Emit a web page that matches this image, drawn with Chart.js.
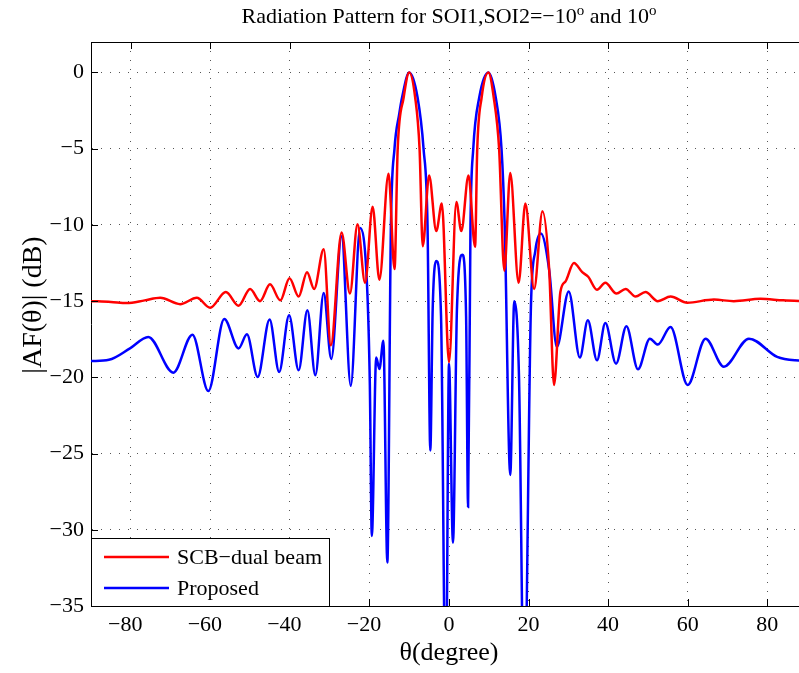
<!DOCTYPE html>
<html>
<head>
<meta charset="utf-8">
<script src="https://cdn.jsdelivr.net/npm/chart.js@4.4.1/dist/chart.umd.min.js"></script>
<style>
  html, body { margin: 0; padding: 0; background: #fff; overflow: hidden; }
  #wrap { width: 820px; height: 673px; }
</style>
</head>
<body>
<div id="wrap"><canvas id="patternChart" width="820" height="673"></canvas></div>
<script>
// angles in degrees, levels in dB
const redTheta = [-90, -85, -81, -76.5, -72.6, -67.6, -63.4, -60.05, -56.1, -52.9, -50, -47.5, -45, -42.4, -40.1,
  -37.8, -35.7, -33.9, -31.5, -29.7, -27, -24.9, -23, -21.1, -19.2, -17.5, -15.2, -13.7, -12.9, -11.4,
  -10, -8.5, -7.4, -6.6, -5, -3.2, -1.8, 0, 1.85, 3.1, 4.9, 6.55, 7.1, 8.2, 9.9,
  11.25, 12.6, 13.9, 15.4, 17.5, 19.2, 21.4, 23.5, 25.2, 26.4, 28, 29.3, 31.4, 33.5, 35,
  37.2, 39.3, 42.1, 44.4, 46.9, 49.4, 52.5, 55.7, 59.9, 66.6, 71.6, 78.3, 84, 90];
const redDb = [-15, -15.05, -15.13, -14.95, -14.78, -15.2, -14.78, -15.43, -14.4, -15.3, -14.2, -15, -13.9, -14.95, -13.5,
  -14.7, -13.1, -14.2, -11.6, -17.9, -10.5, -14.5, -9.95, -13.8, -8.8, -13.6, -6.65, -12.9, -5, -1.64,
  0, -1.64, -5, -11.4, -6.75, -10.4, -8.6, -19, -8.5, -10.4, -6.75, -11.44, -5, -1.64, 0,
  -1.64, -5, -13, -6.6, -13.8, -8.6, -14.2, -9.1, -13, -20.5, -14.4, -13.7, -12.5, -13.1, -13.4,
  -14.25, -13.8, -14.5, -14.2, -14.7, -14.4, -15, -14.7, -15.1, -14.9, -15, -14.85, -14.95, -15];

const blueTheta = [-90, -85.5, -80.2, -75.6, -69.3, -64.5, -60.5, -56.5, -52.9, -50.8, -48.1, -45.1, -42.7, -40.2, -37.8,
  -35.6, -33.6, -31.5, -29.6, -27, -24.7, -22.35, -20.6, -19.9, -19.4, -18.3, -17.5, -16.5, -15.5, -14.6,
  -13.7, -12.5, -11.8, -10, -7.9, -6.4, -5.4, -4.7, -4.1, -3.2, -2, -0.8, 0, 1, 2,
  3.36, 4.3, 4.8, 5.4, 6.1, 7.6, 9.9, 11.75, 13.2, 14, 15.4, 16.4, 17.6, 18.9, 20.6,
  21.7, 23.1, 25.2, 27.1, 30.1, 32.9, 34.9, 37.2, 39.3, 42, 44.6, 47.5, 50.5, 52.5, 55.7,
  60, 64.5, 69.1, 75.4, 82.5, 87, 90];
const blueDb = [-18.93, -18.85, -18.1, -17.35, -19.69, -17.2, -20.9, -16.17, -18.1, -17.18, -19.97, -16.2, -19.65, -15.93, -19.54,
  -15.6, -19.86, -14.47, -18.8, -10.75, -20.55, -10.2, -14, -20.5, -30.4, -18.7, -19.45, -17.6, -32.15, -10,
  -5, -2.7, -1.64, 0, -1.64, -5, -10, -24.8, -15.5, -12.36, -16, -42, -19.1, -30.85, -15.5,
  -11.95, -16, -28.5, -10, -5, -1.64, 0, -1.64, -5, -10, -26.4, -15, -20, -42, -15.3,
  -11.7, -10.57, -13, -18, -14.36, -18.7, -16.26, -18.88, -16.44, -19.1, -16.65, -19.47, -17.46, -17.85, -16.7,
  -20.5, -17.46, -19.3, -17.46, -18.66, -18.88, -18.9];

const xTicks = [-80, -60, -40, -20, 0, 20, 40, 60, 80];
const yTicks = [-35, -30, -25, -20, -15, -10, -5, 0];
const seriesNames = ["SCB\u2212dual beam", "Proposed"];

const serif = "'Liberation Serif', 'Times New Roman', serif";
const minus = (v) => (v < 0 ? "\u2212" + Math.abs(v) : String(v));

function toPoints(xs, ys) {
  return xs.map((x, i) => ({ x: x, y: ys[i] }));
}

const decor = {
  id: "decor",
  afterDatasetsDraw(chart) {
    const { ctx, chartArea: a, scales } = chart;
    const xs = scales.x, ys = scales.y;
    ctx.save();
    ctx.strokeStyle = "#000";
    ctx.lineWidth = 1;

    // top border and inward ticks
    ctx.beginPath();
    ctx.moveTo(a.left, a.top + 0.5);
    ctx.lineTo(a.right, a.top + 0.5);
    xTicks.forEach((v) => {
      const px = Math.round(xs.getPixelForValue(v)) + 0.5;
      ctx.moveTo(px, a.top);
      ctx.lineTo(px, a.top + 7);
      ctx.moveTo(px, a.bottom);
      ctx.lineTo(px, a.bottom - 7);
    });
    yTicks.forEach((v) => {
      const py = Math.round(ys.getPixelForValue(v)) + 0.5;
      ctx.moveTo(a.left, py);
      ctx.lineTo(a.left + 7, py);
    });
    ctx.stroke();

    // legend
    const lx = a.left, ly = 538, lw = 238, lh = a.bottom - 538;
    ctx.fillStyle = "#fff";
    ctx.fillRect(lx, ly, lw, lh);
    ctx.strokeRect(lx + 0.5, ly + 0.5, lw, lh);
    ctx.font = "22px " + serif;
    ctx.textBaseline = "middle";
    ctx.textAlign = "left";
    chart.data.datasets.forEach((ds, i) => {
      const y = 557 + i * 31;
      ctx.strokeStyle = ds.borderColor;
      ctx.lineWidth = 2.5;
      ctx.beginPath();
      ctx.moveTo(lx + 13, y);
      ctx.lineTo(lx + 78, y);
      ctx.stroke();
      ctx.fillStyle = "#000";
      ctx.fillText(ds.label, lx + 86, y + 1);
    });

    // title with superscript degree marks
    const parts = [
      ["Radiation Pattern for SOI1,SOI2=\u221210", false],
      ["o", true],
      [" and 10", false],
      ["o", true],
    ];
    const big = "22px " + serif, small = "15px " + serif;
    let total = 0;
    parts.forEach(([t, sup]) => {
      ctx.font = sup ? small : big;
      total += ctx.measureText(t).width;
    });
    let tx = xs.getPixelForValue(0) - total / 2;
    ctx.fillStyle = "#000";
    ctx.textBaseline = "alphabetic";
    parts.forEach(([t, sup]) => {
      ctx.font = sup ? small : big;
      ctx.fillText(t, tx, sup ? 15 : 23);
      tx += ctx.measureText(t).width;
    });

    // axis titles
    ctx.font = "26px " + serif;
    ctx.textAlign = "center";
    ctx.fillText("\u03b8(degree)", xs.getPixelForValue(0), 660);
    ctx.font = "28px " + serif;
    ctx.translate(41, 305);
    ctx.rotate(-Math.PI / 2);
    ctx.fillText("|AF(\u03b8)| (dB)", 0, 0);
    ctx.restore();
  },
};

const ctx = document.getElementById("patternChart").getContext("2d");

const patternChart = new Chart(ctx, {
  type: "line",
  data: {
    datasets: [
      {
        label: seriesNames[0],
        data: toPoints(redTheta, redDb),
        borderColor: "#ff0000",
        borderWidth: 2.5,
        cubicInterpolationMode: "monotone",
        pointRadius: 0,
        fill: false,
      },
      {
        label: seriesNames[1],
        data: toPoints(blueTheta, blueDb),
        borderColor: "#0000ff",
        borderWidth: 2.5,
        cubicInterpolationMode: "monotone",
        pointRadius: 0,
        fill: false,
      },
    ],
  },
  options: {
    responsive: false,
    animation: false,
    layout: { padding: { top: 42, right: 13, left: 0, bottom: 0 } },
    plugins: {
      legend: { display: false },
      tooltip: { enabled: false },
    },
    scales: {
      x: {
        type: "linear",
        min: -90,
        max: 90,
        afterBuildTicks: (s) => {
          s.ticks = xTicks.map((v) => ({ value: v }));
        },
        afterFit: (s) => {
          s.height = 67;
        },
        grid: { color: "#555", lineWidth: 1, drawTicks: false },
        border: { display: true, color: "#000", width: 1, dash: [1, 8] },
        ticks: {
          padding: 6,
          color: "#000",
          maxRotation: 0,
          autoSkip: false,
          font: { family: serif, size: 22 },
          // negative labels sit a little left of their tick in the original
          callback: (v) => minus(v) + (v < 0 ? "\u2002" : ""),
        },
      },
      y: {
        type: "linear",
        min: -35,
        max: 2,
        afterBuildTicks: (s) => {
          s.ticks = yTicks.map((v) => ({ value: v }));
        },
        afterFit: (s) => {
          s.width = 91;
        },
        grid: { color: "#555", lineWidth: 1, drawTicks: false },
        border: { display: true, color: "#000", width: 1, dash: [1, 8] },
        ticks: {
          padding: 7,
          color: "#000",
          autoSkip: false,
          font: { family: serif, size: 22 },
          callback: (v) => minus(v),
        },
      },
    },
  },
  plugins: [decor],
});
</script>
</body>
</html>
